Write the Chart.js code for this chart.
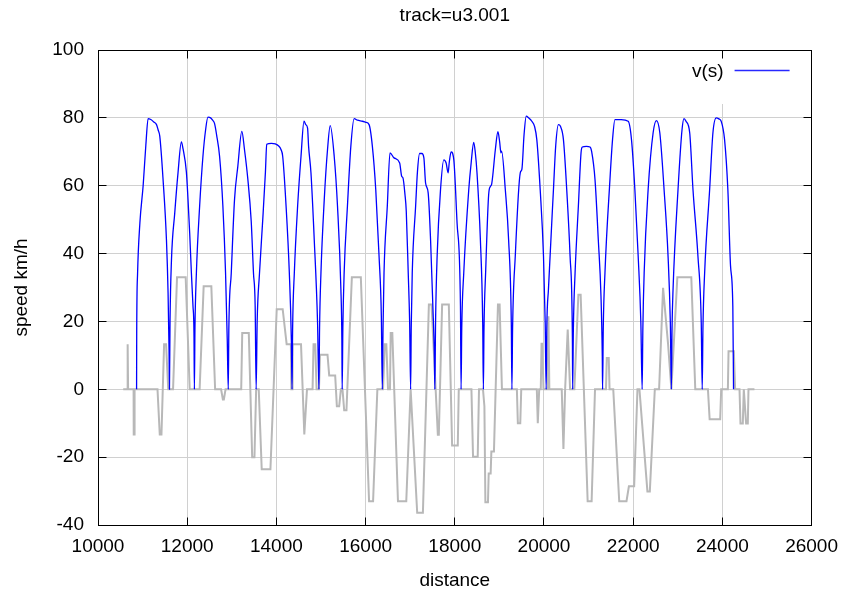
<!DOCTYPE html>
<html><head><meta charset="utf-8">
<script src="https://cdn.jsdelivr.net/npm/chart.js@4.4.1/dist/chart.umd.min.js"></script>
<style>html,body{margin:0;padding:0;background:#fff;}canvas{display:block;}</style>
</head><body>
<canvas id="c" width="848" height="590"></canvas>
<script>
const chartTitle = 'track=u3.001';
const xAxisTitle = 'distance';
const yAxisTitle = 'speed km/h';
const speedLabel = 'v(s)';
const xTickValues = [10000, 12000, 14000, 16000, 18000, 20000, 22000, 24000, 26000];
const yTickValues = [-40, -20, 0, 20, 40, 60, 80, 100];

const speedDistance = [
 10865,10868,10887,10939,11012,11073,11124,11184,11251,11312,11347,11385,11459,11535,11571,11593,11602,
 11615,11647,11721,11794,11870,11906,11982,12018,12056,12094,12130,12152,12161,
 12174,12206,12279,12353,12413,12465,12525,12570,12614,12659,12726,12800,12860,12898,12921,
 12934,12988,13061,13135,13225,13285,13359,13435,13486,13524,13546,
 13569,13620,13694,13754,13783,13888,13978,14045,14105,14141,14217,14290,14335,14351,
 14364,14402,14476,14552,14619,14659,14699,14722,14775,14849,14923,14954,
 14968,14999,15073,15146,15207,15296,15370,15446,15468,15475,
 15490,15519,15593,15669,15743,15817,15928,16004,16078,16152,16228,16302,16353,16375,
 16391,16413,16487,16547,16637,16764,16809,16838,16883,16912,16956,16988,17010,
 17023,17046,17122,17162,17211,17262,17307,17345,17403,17457,17508,17542,17553,
 17569,17604,17680,17754,17806,17850,17877,17917,17978,18051,18127,18141,
 18156,18201,18313,18369,18424,18458,18498,18574,18626,18641,
 18655,18693,18760,18798,18827,18909,18967,19005,19035,19050,19133,19207,19267,19281,
 19296,19356,19468,19504,19553,19602,19653,19727,19788,19839,19915,19989,20027,20049,
 20063,20100,20212,20264,20324,20369,20436,20510,20585,20637,20643,
 20659,20697,20771,20831,20860,20950,21032,21068,21144,21218,21278,21307,21314,
 21329,21367,21479,21537,21591,21732,21888,21962,22038,22112,22172,22201,
 22217,22246,22335,22447,22521,22597,22693,22782,22833,22856,
 22871,22894,23005,23095,23139,23184,23267,23341,23452,23526,23548,
 23564,23602,23714,23788,23861,23921,23973,24049,24123,24183,24234,24250
];
const speedValues = [
 0,16.6,34,49,60,72,79.8,79.5,78.8,78,76.5,74.6,61.8,44,28.5,11.7,0,
 20,38,52,63.8,72.9,70.9,64,56,46,34.3,24.5,16.6,0,
 18,34.3,54,68.7,76.5,80.2,80,79.3,78.3,75,68.7,54,34.3,14.7,0,
 18,34.3,55.9,65.7,76,70.6,62,49.6,34.3,24.5,0,
 20,34,50,64,72.2,72.5,72.3,71.8,70.6,68.7,54,34.3,14.7,0,
 18,34.3,54,68.7,79,78,77,71.6,63.8,44,19.6,0,
 18,34.3,55.9,70.6,77.7,68.7,54,29.5,14.7,0,
 18,34.3,54,71.6,79.8,79.3,79,78.7,78,71.6,58.8,39.2,21.6,0,
 18,34.3,54,69.7,68.2,66.7,62.8,62.3,57.4,52.5,34.3,19.6,0,
 18,34.3,54,64,69.5,69.5,68.2,60.8,57.9,44,24.5,10,0,
 20,39.2,58.8,67.6,66.7,63.8,67,70,67.6,49,24.5,0,
 18,34.3,58.8,67,72.8,70,63.8,44,19.6,0,
 18,35,57.5,59.8,60.5,70.6,75.9,73,69.7,70.2,58.8,44,19.6,0,
 18,39.2,63.8,64.8,75,80.5,80,79,77.5,73.6,58.8,39.2,19.6,0,
 18,29.5,58.8,72,78,77.5,73.6,58.8,39.2,14.7,0,
 18,34.3,54,69.7,71.4,71.6,71.4,70.1,61.8,44,27.4,9.7,0,
 18,34.3,61.8,73.6,79.5,79.5,79,73.6,58.8,39.2,19.6,0,
 18,34.3,58.8,75.6,79.2,75.6,58.8,39.2,19.6,0,
 18,29.5,58.8,76.5,79.8,79,75.6,58.8,39.2,19.6,0,
 18,34.3,58.8,75.6,80,79.7,79,73.6,58.8,36.3,24.5,0
];

const gradeDistance = [
 10565,10655,10658,10672,10675,10798,10801,10817,10820,11334,11385,11423,11482,11526,11575,11683,11772,11966,12056,
 12279,12369,12541,12626,12760,12800,12822,12860,13211,13234,13381,13457,13508,13546,13604,13671,13866,14007,14141,
 14230,14325,14335,14350,14362,14552,14626,14686,14811,14833,14871,14901,14955,14977,15146,15184,15318,15356,15408,
 15446,15482,15520,15571,15692,15893,16078,16168,16264,16391,16429,16465,16503,16547,16563,16599,16726,16912,17010,
 17157,17285,17419,17479,17620,17642,17716,17866,17940,18067,18089,18373,18409,18514,18543,18632,18664,18686,18744,
 18760,18804,18820,18878,18968,19005,19057,19392,19414,19468,19490,19839,19861,19893,19928,19945,19960,19989,20085,
 20100,20104,20120,20398,20436,20474,20532,20585,20681,20771,20822,20979,21068,21144,21390,21408,21452,21470,21553,
 21687,21850,21904,22022,22096,22140,22319,22373,22485,22581,22670,22782,22856,22990,23303,23392,23676,23714,23951,
 23973,24123,24138,24257,24286,24384,24406,24458,24480,24532,24570,24585,24719
];
const gradeValues = [
 0,0,13.3,13.3,0,0,-13.3,-13.3,0,0,-13.3,-13.3,13.3,13.3,0,0,33,33,0,
 0,30.4,30.4,0,0,-3,-3,0,0,16.6,16.6,-20,-20,0,0,-23.6,-23.6,23.6,23.6,
 13.3,13.3,0,0,13.3,13.3,-13.3,0,0,13.3,13.3,0,0,10.2,10.2,4.1,4.1,-5,-5,
 0,0,-6.2,-6.2,33,33,-33,-33,0,0,13.3,13.3,0,0,16.6,16.6,-33,-33,0,
 -36.4,-36.4,25,25,-13.4,-13.4,25,25,-16.6,-16.6,0,0,-19.9,-19.9,0,0,-5,-33.3,-33.3,
 -24.8,-24.8,-18.3,-18.3,25,25,0,0,-10,-10,0,0,-10,0,0,13.4,13.4,0,0,
 21.5,21.5,0,0,-17.6,0,17.6,0,0,27.9,27.9,-33,-33,0,0,9.2,9.2,0,0,
 -33,-33,-28.6,-28.6,0,0,-30.1,-30.1,0,0,29.9,13.4,0,33,33,0,0,-8.8,-8.8,
 0,0,11.2,11.2,0,0,-10.1,-10.1,0,-10.1,-10.1,0,0
];

const FONT = '"Liberation Sans", Arial, sans-serif';
const speedPoints = speedDistance.map((d, i) => ({ x: d, y: speedValues[i] }));
const gradePoints = gradeDistance.map((d, i) => ({ x: d, y: gradeValues[i] }));

const al = v => Math.round(v - 0.5) + 0.5;

const framePlugin = {
  id: 'frame',
  beforeDatasetsDraw(chart) {
    const { ctx, chartArea: a } = chart;
    ctx.save();
    ctx.fillStyle = '#fff';
    ctx.fillRect(a.right - 130, a.top + 1, 129, 53);
    ctx.font = '19px ' + FONT;
    ctx.fillStyle = '#000';
    ctx.textAlign = 'right';
    ctx.textBaseline = 'middle';
    ctx.fillText(speedLabel, a.right - 88, a.top + 22);
    ctx.strokeStyle = 'rgb(40,40,255)';
    ctx.lineWidth = 1.5;
    ctx.beginPath();
    ctx.moveTo(a.right - 77, a.top + 20.5);
    ctx.lineTo(a.right - 22, a.top + 20.5);
    ctx.stroke();
    ctx.restore();
  },
  afterDatasetsDraw(chart) {
    const { ctx, chartArea: a, scales } = chart;
    const L = al(a.left), R = al(a.right), T = al(a.top), B = al(a.bottom);
    ctx.save();
    ctx.strokeStyle = '#000';
    ctx.lineWidth = 1;
    ctx.beginPath();
    xTickValues.slice(1, -1).forEach(v => {
      const p = al(scales.x.getPixelForValue(v));
      ctx.moveTo(p, B); ctx.lineTo(p, B - 8);
      ctx.moveTo(p, T); ctx.lineTo(p, T + 8);
    });
    yTickValues.slice(1, -1).forEach(v => {
      const p = al(scales.y.getPixelForValue(v));
      ctx.moveTo(L, p); ctx.lineTo(L + 8, p);
      ctx.moveTo(R, p); ctx.lineTo(R - 8, p);
    });
    ctx.stroke();
    ctx.strokeRect(L, T, R - L, B - T);
    ctx.restore();
  }
};

const tickFont = { family: FONT, size: 19, weight: 'normal', lineHeight: 1.2 };

new Chart(document.getElementById('c'), {
  type: 'line',
  data: {
    datasets: [
      { label: speedLabel, data: speedPoints, borderColor: 'rgb(0,0,255)', borderWidth: 1.3,
        pointRadius: 0, cubicInterpolationMode: 'monotone', fill: false },
      { label: 'grade', data: gradePoints, borderColor: '#b8b8b8', borderWidth: 2,
        pointRadius: 0, tension: 0, fill: false }
    ]
  },
  options: {
    responsive: false,
    animation: false,
    devicePixelRatio: 1,
    events: [],
    layout: { padding: { left: 0, right: 34, top: 0, bottom: 0 } },
    plugins: {
      legend: { display: false },
      tooltip: { enabled: false },
      title: { display: true, text: chartTitle, fullSize: false, color: '#000',
        font: { family: FONT, size: 19, weight: 'normal', lineHeight: 1.2 },
        padding: { top: 4, bottom: 23.2 } }
    },
    scales: {
      x: {
        type: 'linear', min: 10000, max: 26000,
        afterBuildTicks: s => { s.ticks = xTickValues.map(v => ({ value: v })); },
        afterFit: s => { s.height = 65; },
        grid: { color: '#d0d0d0', lineWidth: 1, drawTicks: false },
        border: { display: false },
        ticks: { color: '#000', font: tickFont, padding: 10, maxRotation: 0, autoSkip: false,
          callback: v => String(v) },
        title: { display: true, text: xAxisTitle, color: '#000',
          font: { family: FONT, size: 19, weight: 'normal', lineHeight: 1 }, padding: { top: 0, bottom: 0 } }
      },
      y: {
        type: 'linear', min: -40, max: 100,
        afterBuildTicks: s => { s.ticks = yTickValues.map(v => ({ value: v })); },
        afterFit: s => { s.width = 98; },
        grid: { color: '#d0d0d0', lineWidth: 1, drawTicks: false },
        border: { display: false },
        ticks: { color: '#000', font: tickFont, padding: 14, callback: v => String(v) },
        title: { display: true, text: yAxisTitle, color: '#000',
          font: { family: FONT, size: 19, weight: 'normal', lineHeight: 1.2 }, padding: { top: 10, bottom: 0 } }
      }
    }
  },
  plugins: [framePlugin]
});
</script>
</body></html>
